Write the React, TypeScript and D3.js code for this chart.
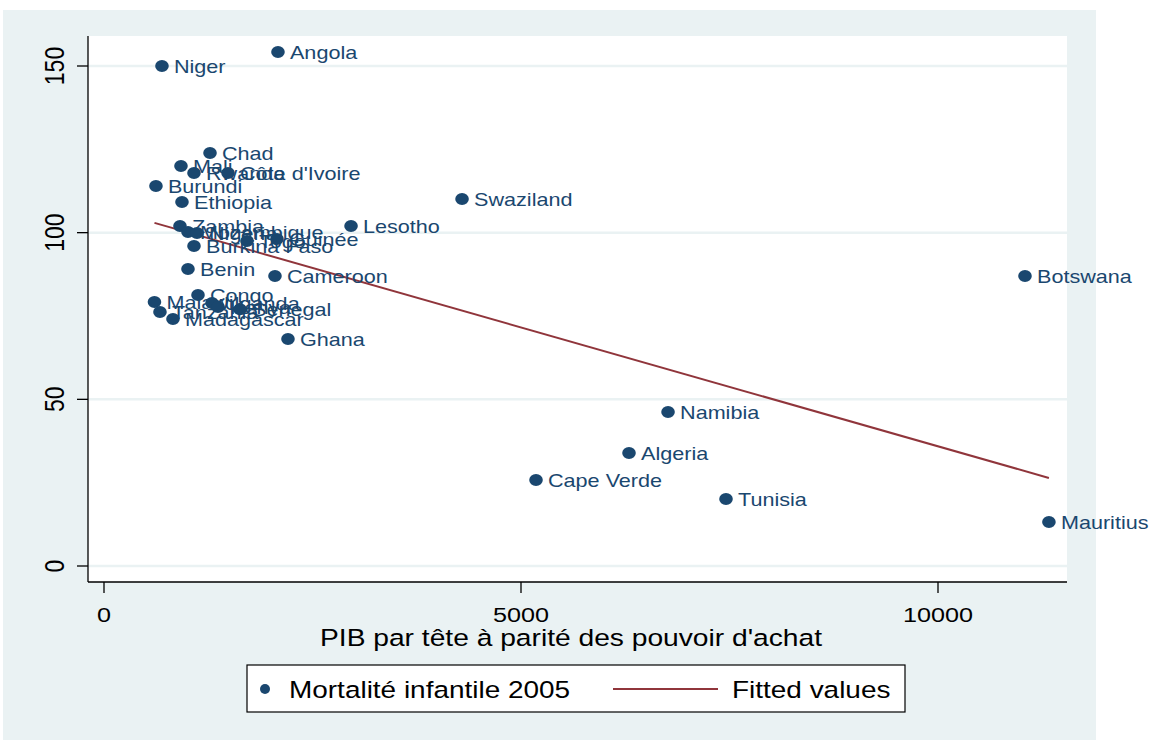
import React from "react";
import * as d3 from "d3";

const countries = ["Angola","Niger","Chad","Mali","Rwanda","Côte d'Ivoire","Burundi","Ethiopia","Swaziland","Lesotho","Zambia","Mozambique","Nigeria","Burkina Faso","Togo","Guinée","Benin","Cameroon","Congo","Malawi","Tanzania","Madagascar","Uganda","Kenya","Senegal","Ghana","Botswana","Namibia","Algeria","Cape Verde","Tunisia","Mauritius"];
const gdp = [2086,695,1271,923,1079,1487,623,935,4293,2962,911,1007,1115,1079,1715,2074,1007,2050,1127,605,671,827,1295,1367,1631,2206,11043,6763,6295,5180,7458,11330];
const mortality = [154.2,150,123.9,120,117.9,117.9,114,109.2,110.1,102,102,100.2,99.9,96,97.5,98.1,89.1,87,81.3,79.2,76.2,74.1,78.9,77.7,77,68.1,87,46.2,33.9,25.8,20.1,13.2];
const xTicks = [0, 5000, 10000];
const yTicks = [0, 50, 100, 150];
const fitIntercept = 107.26;
const fitSlope = -0.007136;
const xTitle = "PIB par tête à parité des pouvoir d'achat";
const legendLabels = ["Mortalité infantile 2005", "Fitted values"];

const NAVY = "#1a476f";
const MAROON = "#90353b";
const BG = "#eaf2f3";
const FONT = "'Liberation Sans', Arial, sans-serif";
const SX = 1.2;

export default function App() {
  const x = d3.scaleLinear().domain([0, 10000]).range([104, 938]);
  const y = d3.scaleLinear().domain([0, 150]).range([566, 66]);
  const plot = { left: 88, right: 1067, top: 36, bottom: 582 };
  const xmin = d3.min(gdp) as number;
  const xmax = d3.max(gdp) as number;
  const fitLine = d3.line<number>()
    .x((v) => x(v))
    .y((v) => y(fitIntercept + fitSlope * v));

  const txt = (tx: number, ty: number, s: string, size: number, opts: any = {}) => (
    <text
      transform={`translate(${tx},${ty}) scale(${SX},1)${opts.rotate ? " rotate(-90)" : ""}`}
      fontFamily={FONT}
      fontSize={size}
      textAnchor={opts.anchor || "start"}
      dominantBaseline={opts.baseline || "alphabetic"}
      fill={opts.fill || "#000"}
    >
      {s}
    </text>
  );

  return (
    <svg width={1157} height={743} style={{ position: "absolute", left: 0, top: 0 }}>
      <rect x={0} y={0} width={1157} height={743} fill="#fff" />
      <rect x={3} y={10} width={1093} height={730} fill={BG} />
      <rect x={plot.left} y={plot.top} width={plot.right - plot.left} height={plot.bottom - plot.top} fill="#fff" />
      {yTicks.map((t) => (
        <line key={"g" + t} x1={plot.left} x2={plot.right} y1={y(t)} y2={y(t)} stroke={BG} strokeWidth={2.5} />
      ))}
      <path d={fitLine([xmin, xmax]) || ""} stroke={MAROON} strokeWidth={2} fill="none" />
      {countries.map((c, i) => (
        <g key={c}>
          <ellipse cx={x(gdp[i])} cy={y(mortality[i])} rx={6.8} ry={6} fill={NAVY} />
        </g>
      ))}
      {countries.map((c, i) =>
        <g key={"l" + c}>{txt(x(gdp[i]) + 12, y(mortality[i]) + 7, c, 18, { fill: NAVY })}</g>
      )}
      <line x1={plot.left} x2={plot.left} y1={plot.top} y2={plot.bottom} stroke="#000" strokeWidth={1.3} />
      <line x1={plot.left} x2={plot.right} y1={plot.bottom} y2={plot.bottom} stroke="#000" strokeWidth={1.3} />
      {yTicks.map((t) => (
        <g key={"yt" + t}>
          <line x1={plot.left - 11} x2={plot.left} y1={y(t)} y2={y(t)} stroke="#000" strokeWidth={1.3} />
          {txt(64, y(t), String(t), 23, { rotate: true, anchor: "middle" })}
        </g>
      ))}
      {xTicks.map((t) => (
        <g key={"xt" + t}>
          <line x1={x(t)} x2={x(t)} y1={plot.bottom} y2={plot.bottom + 11} stroke="#000" strokeWidth={1.3} />
          {txt(x(t), 622, String(t), 21, { anchor: "middle" })}
        </g>
      ))}
      {txt((x(0) + x(10000)) / 2 + 50, 646, xTitle, 23.5, { anchor: "middle" })}
      <rect x={247} y={665} width={658} height={47} fill="#fff" stroke="#000" strokeWidth={1.2} />
      <circle cx={265} cy={689} r={5} fill={NAVY} />
      {txt(289, 698, legendLabels[0], 23.3)}
      <line x1={613} x2={718} y1={689} y2={689} stroke={MAROON} strokeWidth={2} />
      {txt(732, 698, legendLabels[1], 23.3)}
    </svg>
  );
}
